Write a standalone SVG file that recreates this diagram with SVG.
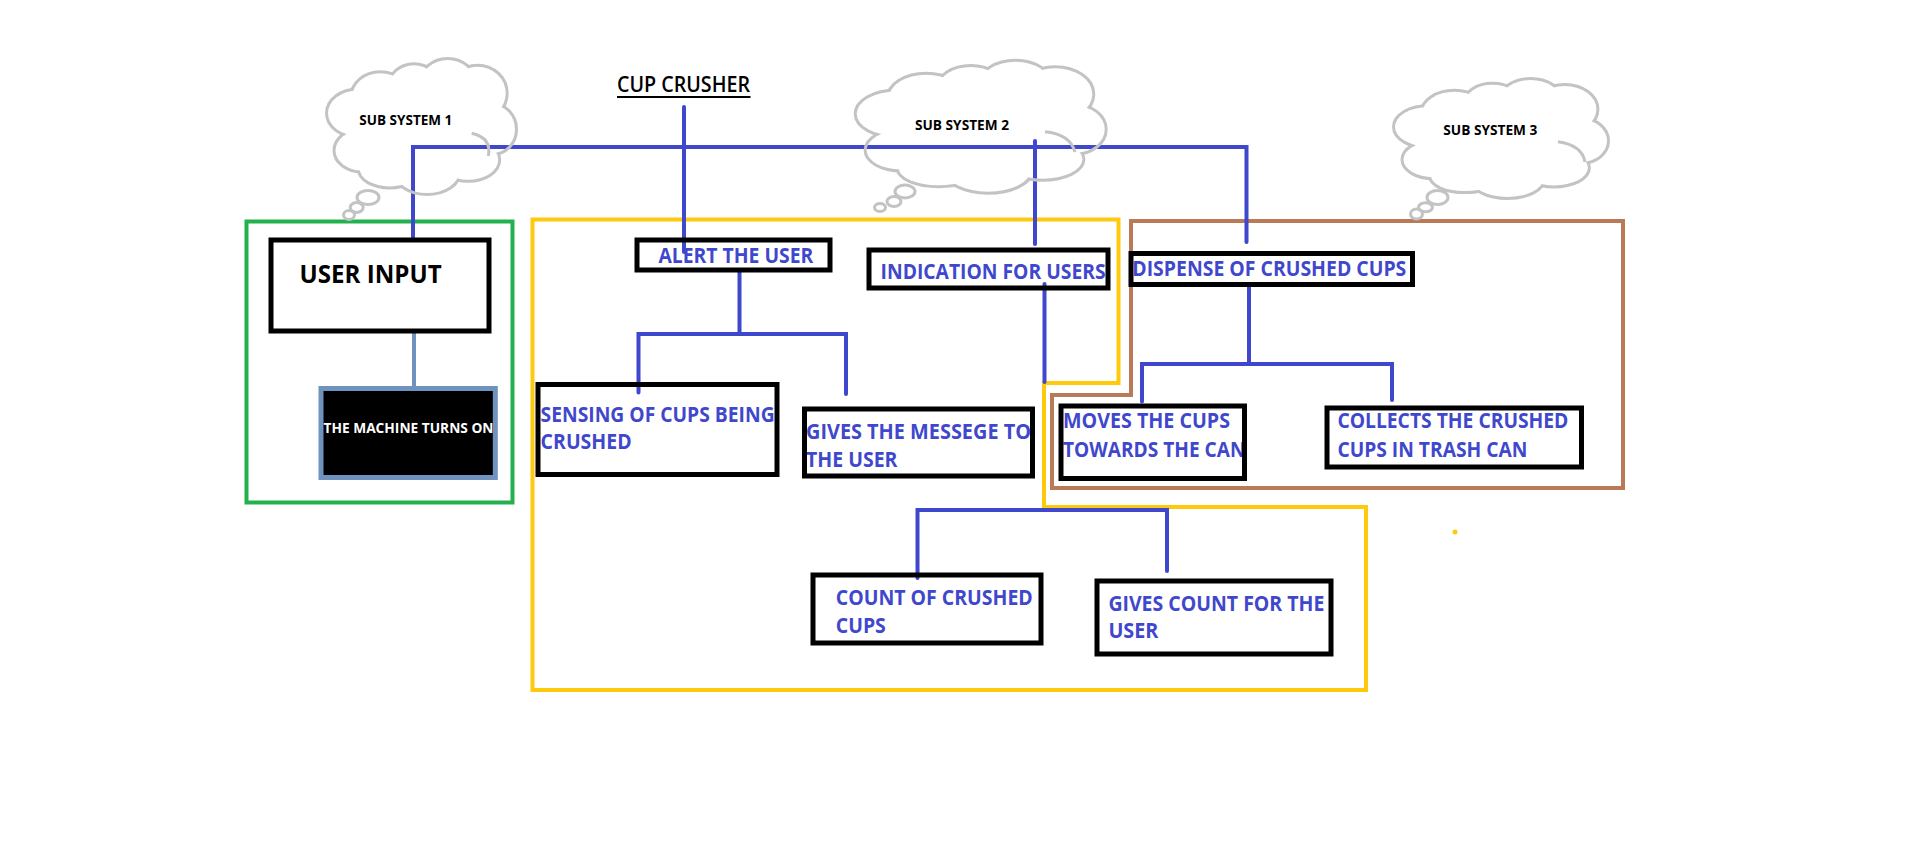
<svg xmlns="http://www.w3.org/2000/svg" xmlns:xlink="http://www.w3.org/1999/xlink" width="1914" height="843" viewBox="0 0 1914 843">
<style>
.box{fill:none;stroke:#000;stroke-width:5}
.lbl{font-family:"Open Sans","Liberation Sans",sans-serif;font-weight:700;font-size:21px;fill:#3f48cc}
.sub{font-family:"Open Sans","Liberation Sans",sans-serif;font-weight:700;font-size:14px;fill:#000}
.conn{fill:none;stroke:#3f48cc;stroke-width:4;stroke-linecap:round}
.bub{fill:none;stroke:#c3c3c3;stroke-width:3}
.cloudfill{fill:#c3c3c3}
</style>
<defs>
<g id="c1e">
<ellipse cx="357.9" cy="113.2" rx="29.9" ry="22.6"/><ellipse cx="361.7" cy="150.4" rx="26.2" ry="20"/><ellipse cx="389.7" cy="169.1" rx="29.9" ry="17.3"/><ellipse cx="427.1" cy="171.7" rx="31.8" ry="21.3"/><ellipse cx="468.3" cy="159.8" rx="29.9" ry="20"/><ellipse cx="492.6" cy="129.2" rx="22.4" ry="23.9"/><ellipse cx="477.6" cy="93.3" rx="28.1" ry="26.6"/><ellipse cx="447.7" cy="82.6" rx="26.2" ry="22.6"/><ellipse cx="414" cy="86.6" rx="24.3" ry="21.3"/><ellipse cx="380.4" cy="97.2" rx="28.1" ry="23.9"/><ellipse cx="421.5" cy="129.2" rx="67.3" ry="42.6"/>
</g>
<g id="c2e">
<ellipse cx="896.4" cy="113.7" rx="39.7" ry="22.1"/><ellipse cx="901.3" cy="150.1" rx="34.7" ry="19.5"/><ellipse cx="938.5" cy="168.3" rx="39.7" ry="16.9"/><ellipse cx="988.1" cy="170.9" rx="42.2" ry="20.8"/><ellipse cx="1042.7" cy="159.2" rx="39.7" ry="19.5"/><ellipse cx="1074.9" cy="129.3" rx="29.8" ry="23.4"/><ellipse cx="1055.1" cy="94.2" rx="37.2" ry="26"/><ellipse cx="1015.4" cy="83.8" rx="34.7" ry="22.1"/><ellipse cx="970.8" cy="87.7" rx="32.2" ry="20.8"/><ellipse cx="926.1" cy="98.1" rx="37.2" ry="23.4"/><ellipse cx="980.7" cy="129.3" rx="89.3" ry="41.6"/>
</g>
<g id="c3e">
<ellipse cx="1428.9" cy="126.8" rx="33.9" ry="19.9"/><ellipse cx="1433.2" cy="159.6" rx="29.7" ry="17.6"/><ellipse cx="1465" cy="175.9" rx="33.9" ry="15.2"/><ellipse cx="1507.4" cy="178.3" rx="36" ry="18.7"/><ellipse cx="1554" cy="167.8" rx="33.9" ry="17.6"/><ellipse cx="1581.6" cy="140.8" rx="25.4" ry="21.1"/><ellipse cx="1564.6" cy="109.3" rx="31.8" ry="23.4"/><ellipse cx="1530.7" cy="99.9" rx="29.7" ry="19.9"/><ellipse cx="1492.5" cy="103.4" rx="27.6" ry="18.7"/><ellipse cx="1454.4" cy="112.8" rx="31.8" ry="21.1"/><ellipse cx="1501" cy="140.8" rx="76.3" ry="37.4"/>
</g>
<mask id="m1" maskUnits="userSpaceOnUse" x="0" y="0" width="1914" height="843">
<use xlink:href="#c1e" href="#c1e" fill="none" stroke="#fff" stroke-width="6"/>
<use xlink:href="#c1e" href="#c1e" fill="#000"/>
</mask>
<mask id="m2" maskUnits="userSpaceOnUse" x="0" y="0" width="1914" height="843">
<use xlink:href="#c2e" href="#c2e" fill="none" stroke="#fff" stroke-width="6"/>
<use xlink:href="#c2e" href="#c2e" fill="#000"/>
</mask>
<mask id="m3" maskUnits="userSpaceOnUse" x="0" y="0" width="1914" height="843">
<use xlink:href="#c3e" href="#c3e" fill="none" stroke="#fff" stroke-width="6"/>
<use xlink:href="#c3e" href="#c3e" fill="#000"/>
</mask>
</defs>
<rect width="1914" height="843" fill="#fff"/>

<g id="boundaries">
<rect id="subsystem1-frame" x="246.5" y="221.5" width="266" height="281" fill="none" stroke="#22b14c" stroke-width="4"/>
<polygon id="subsystem2-frame" points="532.5,219.5 1118.5,219.5 1118.5,383 1044,383 1044,507 1366,507 1366,690 532.5,690" fill="none" stroke="#ffc90e" stroke-width="4"/>
<polygon id="subsystem3-frame" points="1131,221 1623,221 1623,488 1052,488 1052,395 1131,395" fill="none" stroke="#b97a57" stroke-width="4"/>
<circle cx="1455" cy="532" r="2.5" fill="#ffc90e"/>
</g>

<g id="connectors">
<polyline class="conn" points="413,238 413,147 1246.5,147 1246.5,242"/>
<line class="conn" x1="684" y1="107" x2="684" y2="252"/>
<line class="conn" x1="1035" y1="141" x2="1035" y2="244"/>
<polyline class="conn" points="739.5,272 739.5,334"/>
<polyline class="conn" points="638.5,392.5 638.5,334 846,334 846,394"/>
<line class="conn" x1="1044.5" y1="284" x2="1044.5" y2="382"/>
<polyline class="conn" points="917.5,578 917.5,510 1167,510 1167,571"/>
<line class="conn" x1="1249" y1="286" x2="1249" y2="364"/>
<polyline class="conn" points="1142,401.5 1142,364 1392,364 1392,400"/>
<line x1="414" y1="333" x2="414" y2="386" stroke="#7092be" stroke-width="4"/>
</g>

<g id="title">
<text x="617" y="92.3" font-family="Open Sans, Liberation Sans, sans-serif" font-weight="600" font-size="21" fill="#000" textLength="133" lengthAdjust="spacingAndGlyphs">CUP CRUSHER</text>
<line x1="617" y1="97" x2="750.5" y2="97" stroke="#000" stroke-width="2"/>
</g>

<g id="user-input">
<text x="299.6" y="282.7" font-family="Open Sans, Liberation Sans, sans-serif" font-weight="700" font-size="25" fill="#000" textLength="142" lengthAdjust="spacingAndGlyphs">USER INPUT</text>
<rect class="box" x="271" y="240" width="218" height="91"/>
</g>

<g id="machine-turns-on">
<rect x="321" y="388.5" width="174.3" height="89" fill="#000" stroke="#7092be" stroke-width="5"/>
<text x="323.5" y="432.7" font-family="Open Sans, Liberation Sans, sans-serif" font-weight="700" font-size="14" fill="#fff" textLength="170" lengthAdjust="spacingAndGlyphs">THE MACHINE TURNS ON</text>
</g>

<g id="alert-the-user">
<text class="lbl" x="658.4" y="262.7" textLength="155" lengthAdjust="spacingAndGlyphs">ALERT THE USER</text>
<rect class="box" x="637" y="240" width="193" height="30"/>
</g>

<g id="indication-for-users">
<text class="lbl" x="880.6" y="279" textLength="225" lengthAdjust="spacingAndGlyphs">INDICATION FOR USERS</text>
<rect class="box" x="869" y="250" width="239" height="38"/>
</g>

<g id="dispense">
<text class="lbl" x="1132.3" y="275.7" textLength="274" lengthAdjust="spacingAndGlyphs">DISPENSE OF CRUSHED CUPS</text>
<rect class="box" x="1131" y="253.5" width="281.5" height="31"/>
</g>

<g id="sensing">
<text class="lbl" x="540.6" y="421.7" textLength="234" lengthAdjust="spacingAndGlyphs">SENSING OF CUPS BEING</text>
<text class="lbl" x="540.6" y="449.3" textLength="91" lengthAdjust="spacingAndGlyphs">CRUSHED</text>
<rect class="box" x="538" y="384.5" width="239" height="90"/>
</g>

<g id="gives-message">
<text class="lbl" x="806" y="439.3" textLength="225" lengthAdjust="spacingAndGlyphs">GIVES THE MESSEGE TO</text>
<text class="lbl" x="806" y="466.7" textLength="91.5" lengthAdjust="spacingAndGlyphs">THE USER</text>
<rect class="box" x="804.5" y="409" width="228" height="67"/>
</g>

<g id="moves-cups">
<text class="lbl" x="1063" y="428.3" textLength="167" lengthAdjust="spacingAndGlyphs">MOVES THE CUPS</text>
<text class="lbl" x="1063" y="456.7" textLength="182.5" lengthAdjust="spacingAndGlyphs">TOWARDS THE CAN</text>
<rect class="box" x="1061" y="406" width="183.5" height="72.5"/>
</g>

<g id="collects-cups">
<text class="lbl" x="1337.4" y="428.3" textLength="231" lengthAdjust="spacingAndGlyphs">COLLECTS THE CRUSHED</text>
<text class="lbl" x="1337.4" y="456.7" textLength="190" lengthAdjust="spacingAndGlyphs">CUPS IN TRASH CAN</text>
<rect class="box" x="1327" y="408" width="254.5" height="59"/>
</g>

<g id="count-crushed">
<text class="lbl" x="835.8" y="605" textLength="197" lengthAdjust="spacingAndGlyphs">COUNT OF CRUSHED</text>
<text class="lbl" x="835.8" y="632.7" textLength="50" lengthAdjust="spacingAndGlyphs">CUPS</text>
<rect class="box" x="813" y="575" width="228" height="68"/>
</g>

<g id="gives-count">
<text class="lbl" x="1108.4" y="610.7" textLength="216" lengthAdjust="spacingAndGlyphs">GIVES COUNT FOR THE</text>
<text class="lbl" x="1108.4" y="638.3" textLength="50" lengthAdjust="spacingAndGlyphs">USER</text>
<rect class="box" x="1097" y="581" width="234" height="73"/>
</g>

<g id="cloud-subsystem-1">
<rect class="cloudfill" x="315" y="50" width="215" height="160" mask="url(#m1)"/>
<path class="bub" d="M471.7,133.3 Q492,138 488.3,156"/>
<ellipse class="bub" cx="368" cy="197.5" rx="11" ry="7"/>
<ellipse class="bub" cx="356.7" cy="207.5" rx="6.5" ry="5"/>
<ellipse class="bub" cx="349" cy="215" rx="5.5" ry="4.5"/>
<text class="sub" x="359.3" y="125" textLength="93" lengthAdjust="spacingAndGlyphs">SUB SYSTEM 1</text>
</g>

<g id="cloud-subsystem-2">
<rect class="cloudfill" x="845" y="50" width="275" height="160" mask="url(#m2)"/>
<path class="bub" d="M1045,131.7 Q1070,134 1075,152"/>
<ellipse class="bub" cx="905" cy="191.5" rx="10" ry="6.5"/>
<ellipse class="bub" cx="894" cy="201.5" rx="7" ry="5"/>
<ellipse class="bub" cx="880" cy="207.5" rx="5.5" ry="4"/>
<text class="sub" x="915" y="130" textLength="94" lengthAdjust="spacingAndGlyphs">SUB SYSTEM 2</text>
</g>

<g id="cloud-subsystem-3">
<rect class="cloudfill" x="1385" y="70" width="235" height="140" mask="url(#m3)"/>
<path class="bub" d="M1558,141.7 Q1582,145 1585,162"/>
<ellipse class="bub" cx="1437.5" cy="197.5" rx="10.5" ry="7"/>
<ellipse class="bub" cx="1425.5" cy="207.3" rx="7" ry="4.5"/>
<ellipse class="bub" cx="1416.5" cy="214" rx="6" ry="5"/>
<text class="sub" x="1443.3" y="135" textLength="94" lengthAdjust="spacingAndGlyphs">SUB SYSTEM 3</text>
</g>
</svg>
